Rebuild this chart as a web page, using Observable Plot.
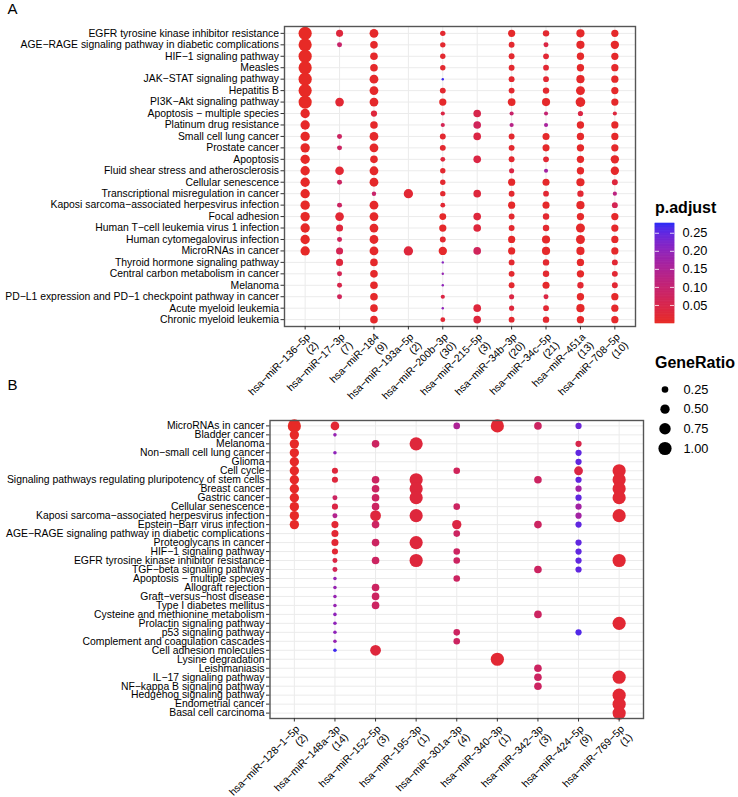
<!DOCTYPE html>
<html><head><meta charset="utf-8">
<script src="https://cdn.jsdelivr.net/npm/d3@7"></script>
<script src="https://cdn.jsdelivr.net/npm/@observablehq/plot@0.6"></script>
<style>
body{margin:0;background:#fff;font-family:"Liberation Sans",Arial,sans-serif;}
#root{position:relative;width:738px;height:797px;overflow:hidden;background:#fff;}
#root > *{position:absolute;}
.letter{font-size:15px;line-height:15px;color:#000;}
.ltitle{font-size:16px;line-height:16px;font-weight:bold;color:#000;}
</style></head><body><div id="root"></div>
<script>
// ---------- Panel A ----------
const pathwaysA = [
"EGFR tyrosine kinase inhibitor resistance",
"AGE−RAGE signaling pathway in diabetic complications",
"HIF−1 signaling pathway",
"Measles",
"JAK−STAT signaling pathway",
"Hepatitis B",
"PI3K−Akt signaling pathway",
"Apoptosis − multiple species",
"Platinum drug resistance",
"Small cell lung cancer",
"Prostate cancer",
"Apoptosis",
"Fluid shear stress and atherosclerosis",
"Cellular senescence",
"Transcriptional misregulation in cancer",
"Kaposi sarcoma−associated herpesvirus infection",
"Focal adhesion",
"Human T−cell leukemia virus 1 infection",
"Human cytomegalovirus infection",
"MicroRNAs in cancer",
"Thyroid hormone signaling pathway",
"Central carbon metabolism in cancer",
"Melanoma",
"PD−L1 expression and PD−1 checkpoint pathway in cancer",
"Acute myeloid leukemia",
"Chronic myeloid leukemia"];
const mirnasA = ["hsa−miR−136−5p","hsa−miR−17−3p","hsa−miR−184","hsa−miR−193a−5p","hsa−miR−200b−3p","hsa−miR−215−5p","hsa−miR−34b−3p","hsa−miR−34c−5p","hsa−miR−451a","hsa−miR−708−5p"];
const countsA = [2,7,9,2,30,3,20,21,13,10];
// genes hit per pathway (one row per miRNA, in pathway order); GeneRatio = hits / count
const hitsA = [
[2,2,2,2,2,2,2,1,1,1, 1,1,1,1,1,1,1,1,1,1, 0,0,0,0,0,0],
[2,1,0,0,0,0,3,0,0,1, 1,0,3,1,0,1,3,2,1,2, 2,1,1,1,0,0],
[4,3,3,3,4,4,4,2,3,4, 4,3,4,4,1,4,4,4,4,4, 3,3,3,3,3,3],
[0,0,0,0,0,0,0,0,0,0, 0,0,0,0,1,0,0,0,0,1, 0,0,0,0,0,0],
[5,5,5,5,1,6,9,3,3,6, 6,4,5,5,5,4,8,9,6,12, 1,1,1,3,1,4],
[0,0,0,0,0,0,0,1,1,1, 0,1,0,0,1,0,1,1,0,1, 0,0,0,0,1,1],
[6,4,4,4,4,4,7,2,2,4, 4,4,3,6,4,6,4,4,6,6, 4,4,4,3,3,4],
[5,3,4,4,4,5,8,2,2,6, 6,4,2,6,4,6,5,5,8,8, 5,5,6,3,4,5],
[5,5,4,4,5,6,7,2,4,4, 4,4,4,5,3,5,4,6,6,5, 4,4,3,4,5,4],
[3,4,3,3,3,3,3,1,3,3, 3,4,4,2,1,2,3,3,3,3, 2,2,2,3,3,3]];
const padjA = [
[.004,.004,.004,.004,.004,.004,.004,.006,.006,.006, .006,.006,.006,.006,.006,.006,.006,.006,.006,.006, 0,0,0,0,0,0],
[.03,.09,0,0,0,0,.02,0,0,.08, .08,0,.02,.08,0,.08,.02,.03,.07,.06, .03,.06,.05,.07,0,0],
[.01,.01,.01,.01,.01,.01,.01,.03,.01,.01, .01,.01,.01,.01,.09,.01,.01,.01,.01,.01, .01,.01,.01,.01,.01,.01],
[0,0,0,0,0,0,0,0,0,0, 0,0,0,0,.02,0,0,0,0,.03, 0,0,0,0,0,0],
[.015,.015,.015,.015,.27,.015,.01,.04,.06,.015, .015,.03,.015,.015,.015,.02,.01,.01,.015,.01, .21,.19,.2,.04,.2,.02],
[0,0,0,0,0,0,0,.05,.07,.04, 0,.04,0,0,.03,0,.03,.03,0,.07, 0,0,0,0,.03,.03],
[.01,.015,.015,.015,.015,.015,.01,.09,.13,.015, .015,.015,.04,.01,.015,.01,.015,.015,.01,.01, .015,.015,.015,.04,.03,.015],
[.015,.04,.02,.02,.02,.015,.01,.1,.16,.01, .01,.02,.17,.01,.02,.01,.015,.015,.01,.01, .015,.015,.01,.04,.02,.015],
[.01,.01,.01,.01,.01,.01,.01,.04,.01,.01, .01,.01,.01,.01,.02,.01,.01,.01,.01,.01, .01,.01,.02,.01,.01,.01],
[.01,.01,.01,.01,.01,.01,.01,.03,.01,.01, .01,.01,.01,.03,.12,.06,.01,.01,.01,.01, .02,.02,.02,.01,.01,.01]];

// ---------- Panel B ----------
const pathwaysB = [
"MicroRNAs in cancer","Bladder cancer","Melanoma","Non−small cell lung cancer","Glioma","Cell cycle",
"Signaling pathways regulating pluripotency of stem cells","Breast cancer","Gastric cancer","Cellular senescence",
"Kaposi sarcoma−associated herpesvirus infection","Epstein−Barr virus infection",
"AGE−RAGE signaling pathway in diabetic complications","Proteoglycans in cancer","HIF−1 signaling pathway",
"EGFR tyrosine kinase inhibitor resistance","TGF−beta signaling pathway","Apoptosis − multiple species",
"Allograft rejection","Graft−versus−host disease","Type I diabetes mellitus","Cysteine and methionine metabolism",
"Prolactin signaling pathway","p53 signaling pathway","Complement and coagulation cascades","Cell adhesion molecules",
"Lysine degradation","Leishmaniasis","IL−17 signaling pathway","NF−kappa B signaling pathway",
"Hedgehog signaling pathway","Endometrial cancer","Basal cell carcinoma"];
const mirnasB = ["hsa−miR−128−1−5p","hsa−miR−148a−3p","hsa−miR−152−5p","hsa−miR−195−3p","hsa−miR−301a−3p","hsa−miR−340−3p","hsa−miR−342−3p","hsa−miR−424−5p","hsa−miR−769−5p"];
const countsB = [2,14,3,1,4,1,3,9,1];
const hitsB = [
[2,1,1,1,1,1,1,1,1,1, 1,1,0,0,0,0,0,0,0,0, 0,0,0,0,0,0,0,0,0,0, 0,0,0],
[6,1,0,1,0,3,3,0,2,3, 2,4,4,4,3,2,2,1,1,1, 1,1,1,1,1,1,0,0,0,0, 0,0,0],
[0,0,1,0,0,0,1,1,1,1, 2,1,0,1,0,1,0,0,1,1, 1,0,0,0,0,2,0,0,0,0, 0,0,0],
[0,0,1,0,0,0,1,1,1,0, 1,0,0,1,0,1,0,0,0,0, 0,0,0,0,0,0,0,0,0,0, 0,0,0],
[1,0,0,0,0,1,0,0,0,1, 0,2,1,0,1,1,0,1,0,0, 0,0,0,1,1,0,0,0,0,0, 0,0,0],
[1,0,0,0,0,0,0,0,0,0, 0,0,0,0,0,0,0,0,0,0, 0,0,0,0,0,0,1,0,0,0, 0,0,0],
[1,0,0,0,0,0,1,0,0,0, 0,1,0,0,0,0,1,0,0,0, 0,1,0,0,0,0,0,1,1,1, 0,0,0],
[2,0,2,2,2,4,2,2,2,2, 2,2,0,2,2,2,2,0,0,0, 0,0,0,2,0,0,0,0,0,0, 0,0,0],
[0,0,0,0,0,1,1,1,1,0, 1,0,0,0,0,1,0,0,0,0, 0,0,1,0,0,0,0,0,1,0, 1,1,1]];
const padjB = [
[.004,.006,.006,.006,.006,.006,.006,.006,.006,.006, .006,.006,0,0,0,0,0,0,0,0, 0,0,0,0,0,0,0,0,0,0, 0,0,0],
[.02,.19,0,.2,0,.03,.03,0,.08,.04, .14,.02,.02,.02,.02,.04,.06,.19,.19,.19, .19,.2,.2,.2,.19,.27,0,0,0,0, 0,0,0],
[0,0,.08,0,0,0,.08,.08,.08,.08, .03,.08,0,.08,0,.08,0,0,.08,.08, .08,0,0,0,0,.03,0,0,0,0, 0,0,0],
[0,0,.03,0,0,0,.03,.03,.03,0, .03,0,0,.03,0,.03,0,0,0,0, 0,0,0,0,0,0,0,0,0,0, 0,0,0],
[.15,0,0,0,0,.07,0,0,0,.08, 0,.04,.08,0,.08,.08,0,.08,0,0, 0,0,0,.08,.08,0,0,0,0,0, 0,0,0],
[.02,0,0,0,0,0,0,0,0,0, 0,0,0,0,0,0,0,0,0,0, 0,0,0,0,0,0,.02,0,0,0, 0,0,0],
[.08,0,0,0,0,0,.08,0,0,0, 0,.08,0,0,0,0,.08,0,0,0, 0,.08,0,0,0,0,0,.08,.08,.08, 0,0,0],
[.24,0,.05,.25,.25,.04,.25,.17,.25,.17, .17,.25,0,.25,.25,.25,.25,0,0,0, 0,0,0,.26,0,0,0,0,0,0, 0,0,0],
[0,0,0,0,0,.02,.02,.02,.02,0, .02,0,0,0,0,.02,0,0,0,0, 0,0,.02,0,0,0,0,0,.02,0, .02,.02,.02]];

// legend values
const sizeBreaks = [0.25, 0.5, 0.75, 1.0];
const padjTicks = [0.05, 0.10, 0.15, 0.20, 0.25];
const padjLimits = [0.0, 0.277];

// ---------- shared scales ----------
const FONT = "Liberation Sans, Arial, sans-serif";
const colorScale = {type: "linear", domain: padjLimits, range: ["#e82a22", "#2a2af5"], interpolate: "lab"};
const rScale = {type: "sqrt", domain: [0, 1], range: [0, 6.6]};

function toDots(pathways, mirnas, counts, hits, padj) {
  const out = [];
  mirnas.forEach((m, i) => pathways.forEach((p, j) => {
    if (hits[i][j] > 0) out.push({mirna: m, pathway: p, ratio: hits[i][j] / counts[i], padj: padj[i][j]});
  }));
  return out;
}

function panel(pathways, mirnas, counts, dots, o) {
  const lab = new Map(mirnas.map((m, i) => [m, `${m}\n(${counts[i]})`]));
  return Plot.plot({
    width: o.width, height: o.height,
    marginTop: o.mt, marginBottom: o.mb, marginLeft: o.ml, marginRight: o.mr,
    style: {fontFamily: FONT, color: "#000", background: "transparent", overflow: "visible"},
    x: {type: "point", domain: mirnas, padding: 0.6, round: false},
    y: {type: "point", domain: pathways, padding: 0.6, round: false},
    r: rScale, color: colorScale,
    marks: [
      Plot.gridX({stroke: "#ebebeb", strokeOpacity: 1, strokeWidth: 1}),
      Plot.gridY({stroke: "#ebebeb", strokeOpacity: 1, strokeWidth: 1}),
      Plot.dot(dots, {x: "mirna", y: "pathway", r: "ratio", fill: "padj"}),
      Plot.frame({stroke: "#555", strokeWidth: 1.4}),
      Plot.axisY({label: null, tickSize: 3.5, tickPadding: 2, fontSize: 10.4, stroke: "#333"}),
      Plot.axisX({label: null, tickSize: 3.5, tickPadding: 2, fontSize: 10.4, stroke: "#333",
        tickRotate: -45, textAnchor: "end", lineAnchor: "top", lineHeight: 1.1,
        tickFormat: d => lab.get(d)})
    ]
  });
}

const root = document.getElementById("root");
function place(el, left, top) { el.style.left = left + "px"; el.style.top = top + "px"; root.appendChild(el); return el; }
function label(text, cls, left, top) { const d = document.createElement("div"); d.className = cls; d.textContent = text; return place(d, left, top); }

const dotsA = toDots(pathwaysA, mirnasA, countsA, hitsA, padjA);
const dotsB = toDots(pathwaysB, mirnasB, countsB, hitsB, padjB);

place(panel(pathwaysA, mirnasA, countsA, dotsA, {width: 640, height: 400, mt: 26, mb: 74, ml: 284, mr: 5}), 0, 0);
place(panel(pathwaysB, mirnasB, countsB, dotsB, {width: 648, height: 397, mt: 20, mb: 79, ml: 269.5, mr: 5}), 0, 400);

// color bar legend
const stops = d3.range(padjLimits[0], padjLimits[1], 0.002).map(v => ({lo: v, hi: Math.min(v + 0.002, padjLimits[1])}));
const bar = Plot.plot({
  width: 80, height: 117, marginTop: 10, marginBottom: 7, marginLeft: 0, marginRight: 61,
  style: {fontFamily: FONT, color: "#000", background: "transparent", overflow: "visible"},
  y: {domain: padjLimits}, color: colorScale,
  marks: [
    Plot.rect(stops, {y1: "lo", y2: "hi", fill: d => (d.lo + d.hi) / 2, stroke: d => (d.lo + d.hi) / 2, strokeWidth: 0.6}),
    Plot.tickY(padjTicks, {y: d => d, stroke: "white", strokeWidth: 0.8, insetRight: 15}),
    Plot.tickY(padjTicks, {y: d => d, stroke: "white", strokeWidth: 0.8, insetLeft: 15}),
    Plot.axisY({anchor: "right", ticks: padjTicks, tickFormat: d3.format(".2f"), tickSize: 0, tickPadding: 8, fontSize: 12.8, label: null})
  ]
});
place(bar, 655, 213);
label("p.adjust", "ltitle", 655, 199.5);

// size legend
const sizeLeg = Plot.plot({
  width: 90, height: 90, marginTop: 14, marginBottom: 17, marginLeft: 8, marginRight: 65,
  style: {fontFamily: FONT, color: "#000", background: "transparent", overflow: "visible"},
  y: {type: "point", domain: sizeBreaks, padding: 0, round: false},
  r: rScale,
  marks: [
    Plot.dot(sizeBreaks, {y: d => d, r: d => d, fill: "black"}),
    Plot.axisY({anchor: "right", tickFormat: d3.format(".2f"), tickSize: 0, tickPadding: 10, fontSize: 12.8, label: null})
  ]
});
place(sizeLeg, 648, 375);
label("GeneRatio", "ltitle", 655, 354.5);

label("A", "letter", 7.5, 0.6);
label("B", "letter", 7.5, 376.6);
</script></body></html>
